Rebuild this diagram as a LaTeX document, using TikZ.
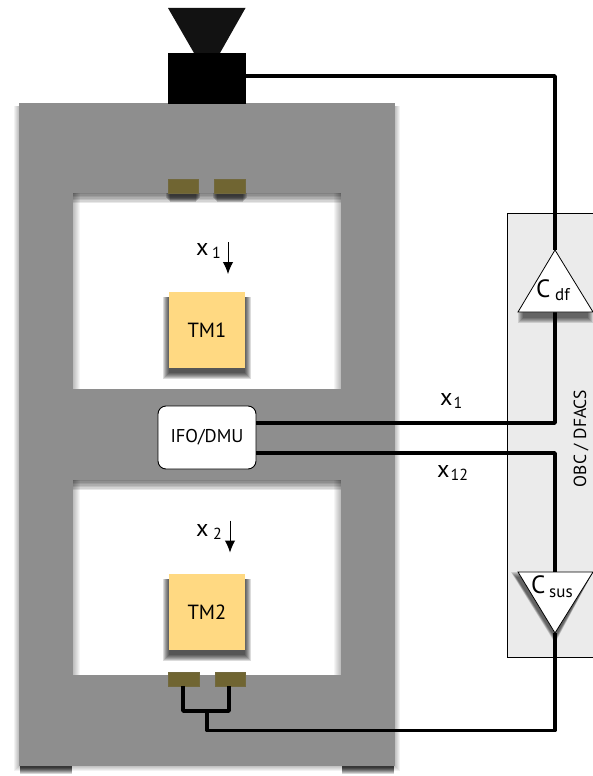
\documentclass[tikz,border=0pt]{standalone}
\usepackage{fontspec}
\setmainfont{PT Sans}
\usetikzlibrary{arrows.meta}
\definecolor{framegray}{HTML}{8E8E8E}
\definecolor{padcol}{HTML}{706532}
\definecolor{tmcol}{HTML}{FFD982}
\definecolor{panelcol}{HTML}{EBEBEB}
\newcommand{\softshadow}[6]{% x1 y1 x2 y2 strength spread
  \foreach \k in {0,1,...,#6}{
    \fill[black,opacity=#5]
      ({#1-\k},{#2+3}) rectangle ({#3+\k},{#4+\k});
  }
}
\newcommand{\underglow}[3]{% x1 x2 y
  \foreach \k in {0,...,6}{
    \fill[black,opacity=.16] ({#1+1},#3) rectangle ({#2-1},{#3+8-\k});
  }
}
\newcommand{\windowpane}[4]{% x1 y1 x2 y2
  \begin{scope}
  \clip (#1,#2) rectangle (#3,#4);
  \fill[white] (#1,#2) rectangle (#3,#4);
  \foreach \k in {0,...,6}{
    \fill[black,opacity=.09] (#1,#2) rectangle (#3,{#2+10-1.45*\k});
    \fill[black,opacity=.04] (#1,#2) rectangle ({#1+7-\k},#4);
    \fill[black,opacity=.04] ({#3-7+\k},#2) rectangle (#3,#4);
  }
  \end{scope}
}
\tikzset{
  wire/.style={line width=3.6pt,black,line join=round},
  framepart/.style={fill=framegray,draw=none},
  pad/.style={rectangle,fill=padcol,draw=padcol!85!gray,line width=.4pt,inner sep=0pt,minimum width=30.5pt,minimum height=13.5pt},
  tm/.style={rectangle,fill=tmcol,inner sep=0pt,minimum width=76pt,minimum height=76pt,font=\fontsize{20.5}{24}\selectfont},
  lab/.style={inner sep=0pt,font=\fontsize{24}{28}\selectfont},
  tri/.style={fill=white,draw=black,line width=.8pt,line join=miter},
  sensorarrow/.style={-{Latex[length=12pt,width=10.5pt]},line width=1pt,black},
}
\newcommand{\subtxt}[1]{\raisebox{-3.5pt}{\fontsize{16}{18}\selectfont #1}}
\begin{document}
\begin{tikzpicture}[x=1pt,y=-1pt]
\useasboundingbox (0,0) rectangle (592,776);
\fill[white] (0,0) rectangle (592,776);
% frame shadows
\softshadow{19}{103}{395}{766}{.05}{5}
\underglow{19}{73}{766}
\underglow{341}{395}{766}
% frame and windows
\fill[framepart] (19,103) rectangle (395,766);
\windowpane{73}{193}{341}{389}
\windowpane{73}{480}{341}{675}
% panel
\node[rectangle,fill=panelcol,draw=black,line width=.6pt,inner sep=0pt,minimum width=100pt,minimum height=444pt] (panel) at (557,435) {};
\node[inner sep=0pt,rotate=90,font=\fontsize{17.5}{21}\selectfont] (panellab) at (581,438.5) {OBC / DFACS};
% hopper and camera
\coordinate (hopperA) at (168,8);
\coordinate (hopperB) at (245.5,8);
\coordinate (hopperC) at (220,53);
\coordinate (hopperD) at (194,53);
\fill[black!93] (hopperA) -- (hopperB) -- (hopperC) -- (hopperD) -- cycle;
\node[rectangle,fill=black,inner sep=0pt,minimum width=77.5pt,minimum height=51pt] (cam) at (207,78.5) {};
% pads
\foreach \n/\x/\y in {padA/183/186,padB/229.5/186}{
  \foreach \k in {0,...,4}{\fill[black,opacity=.17] ({\x-15-\k+2},193) rectangle ({\x+15+\k-2},{202-\k});}
  \node[pad] (\n) at (\x,\y) {};
}
\node[pad] (padC) at (183.5,679) {};
\node[pad] (padD) at (230,679) {};
% test masses
\foreach \yy in {292,574}{
  \foreach \k in {0,...,6}{\fill[black,opacity=.14] ({169-6+\k},{\yy+5}) rectangle ({245+6-\k},{\yy+76+11-\k});}
}
\node[tm] (tmA) at (207,330) {TM1};
\node[tm] (tmB) at (207,612) {TM2};
% IFO
\node[rectangle,rounded corners=8pt,fill=white,draw=black,line width=.9pt,inner sep=0pt,minimum width=98pt,minimum height=63pt,font=\fontsize{18.5}{22}\selectfont] (ifo) at (207,437.5) {IFO/DMU};
% wires
\coordinate (cdfApex) at (555,250);
\coordinate (cdfBase) at (555,312);
\coordinate (csusTop) at (555,572);
\coordinate (csusApex) at (555,633);
\coordinate (camOut) at (246,76);
\draw[wire] (camOut) -| (cdfApex);
\draw[wire] (ifo.east |- 0,423) -| (cdfBase);
\draw[wire] (ifo.east |- 0,453) -| (csusTop);
\coordinate (busL) at (183,711);
\coordinate (busR) at (229,711);
\coordinate (busM) at (207,711);
\draw[wire] (csusApex) |- (207,730.5) -- (busM);
\draw[wire] (padC.south -| busL) -- (busL) -- (busR) -- (padD.south -| busR);
% triangles
\foreach \k in {0,...,5}{
  \fill[black,opacity=.13] ({518+\k},312) -- ({593-\k},312) -- ({593-\k},{323-\k}) -- ({518+\k},{323-\k}) -- cycle;
}
\foreach \k in {0,...,5}{
  \fill[black,opacity=.13] ({511+\k},{572+\k}) -- (555,{643-\k}) -- (593,572) -- cycle;
}
\draw[wire] (cdfBase) -- ++(0,12);
\draw[wire] (csusApex) -- ++(0,12);
\draw[tri] (cdfApex) -- (593,312) -- (518,312) -- cycle;
\draw[tri] (518,572) -- (593,572) -- (csusApex) -- cycle;
\node[inner sep=0pt,anchor=base west,font=\fontsize{25}{28}\selectfont] (cdfC) at (536,297) {C};
\node[inner sep=0pt,anchor=base west,font=\fontsize{17}{20}\selectfont] (cdfS) at (555,300) {df};
\node[inner sep=0pt,anchor=base west,font=\fontsize{25}{28}\selectfont] (csusC) at (531,593) {C};
\node[inner sep=0pt,anchor=base west,font=\fontsize{17}{20}\selectfont] (csusS) at (549,597) {sus};
% motion labels
\node[lab,anchor=base west] (xa) at (196,255) {x\hspace{3.5pt}\subtxt{1}};
\node[lab,anchor=base west] (xb) at (196,536) {x\hspace{4.5pt}\subtxt{2}};
\coordinate (arrAs) at (228,242);
\coordinate (arrAe) at (228,274);
\coordinate (arrBs) at (230,520.5);
\coordinate (arrBe) at (230,552.5);
\draw[sensorarrow] (arrAs) -- (arrAe);
\draw[sensorarrow] (arrBs) -- (arrBe);
\node[lab,anchor=base west] (xc) at (440,405) {x\hspace{1pt}\subtxt{1}};
\node[lab,anchor=base west] (xd) at (437,477) {x\hspace{1pt}\subtxt{12}};
\end{tikzpicture}
\end{document}
